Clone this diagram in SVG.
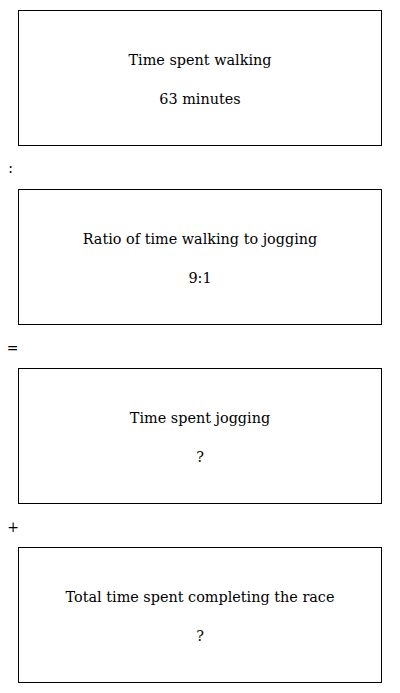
<svg xmlns="http://www.w3.org/2000/svg" width="400" height="693" viewBox="0 0 400 693">
<style>
.box{fill:#fff;stroke:#000;stroke-width:1}
.t{font-family:"DejaVu Serif","Liberation Serif",serif;font-size:14.4px;fill:#000;text-anchor:middle}
.op{font-family:"DejaVu Serif","Liberation Serif",serif;font-size:14px;fill:#000;text-anchor:middle}
</style>
<rect width="400" height="693" fill="#fff"/>
<g id="walking">
<rect class="box" x="18.5" y="10.5" width="363" height="135"/>
<text class="t" x="200" y="65">Time spent walking</text>
<text class="t" x="200" y="104">63 minutes</text>
</g>
<g id="ratio">
<rect class="box" x="18.5" y="189.5" width="363" height="135"/>
<text class="t" x="200" y="244">Ratio of time walking to jogging</text>
<text class="t" x="200" y="283">9:1</text>
</g>
<g id="jogging">
<rect class="box" x="18.5" y="368.5" width="363" height="135"/>
<text class="t" x="200" y="423">Time spent jogging</text>
<text class="t" x="200" y="462">?</text>
</g>
<g id="total">
<rect class="box" x="18.5" y="547.5" width="363" height="135"/>
<text class="t" x="200" y="602">Total time spent completing the race</text>
<text class="t" x="200" y="641">?</text>
</g>
<g id="connectors">
<text class="op" x="10.5" y="173">:</text>
<text class="op" x="12.5" y="353">=</text>
<text class="op" x="13" y="532">+</text>
</g>
</svg>
